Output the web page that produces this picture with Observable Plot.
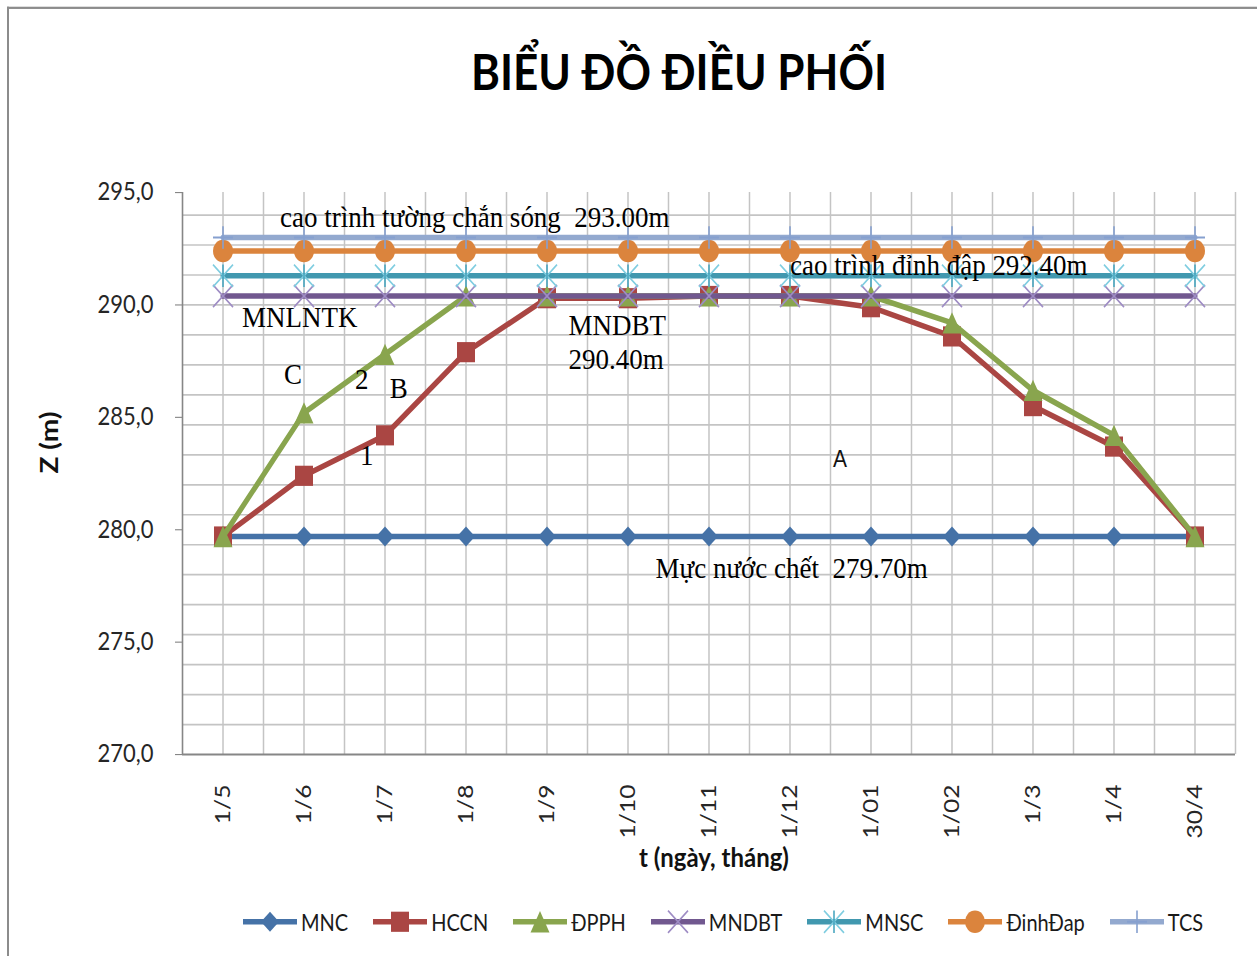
<!DOCTYPE html>
<html>
<head>
<meta charset="utf-8">
<script src="https://cdn.jsdelivr.net/npm/d3@7"></script>
<script src="https://cdn.jsdelivr.net/npm/@observablehq/plot@0.6"></script>
<style>
html,body{margin:0;padding:0;background:#fff;}
#page{position:relative;width:1257px;height:956px;overflow:hidden;}
#wrap{position:absolute;left:0;top:0;width:1257px;transform-origin:0 0;font-family:Lato,sans-serif;}
#frame{position:absolute;left:7px;top:6px;width:1400px;height:1000px;border-left:2px solid #8c8c8c;border-top:2px solid #8c8c8c;}
#title{position:absolute;left:179px;width:1000px;top:41px;text-align:center;font:700 44px/45px Lato,sans-serif;color:#000;white-space:nowrap;}
#chart{position:absolute;left:0;top:0;}
#legend{position:absolute;left:243px;top:810px;display:flex;align-items:center;gap:25px;font:400 20px/26px Lato,sans-serif;color:#1a1a1a;white-space:nowrap;}
.item{display:flex;align-items:center;gap:4px;}
.item svg{display:block;overflow:visible;}
</style>
</head>
<body>
<div id="page">
<div id="wrap">
  <div id="frame"></div>
  <div id="chart"></div>
  <div id="title">BIỂU ĐỒ ĐIỀU PHỐI</div>
  <div id="legend"></div>
</div>
</div>
<script>
// ---------- data ----------
const categories = ["1/5","1/6","1/7","1/8","1/9","1/10","1/11","1/12","1/01","1/02","1/3","1/4","30/4"];
const MNC     = [279.7,279.7,279.7,279.7,279.7,279.7,279.7,279.7,279.7,279.7,279.7,279.7,279.7];
const HCCN    = [279.7,282.4,284.2,287.9,290.3,290.3,290.4,290.4,289.9,288.6,285.5,283.7,279.7];
const DPPH    = [279.7,285.2,287.8,290.4,290.4,290.4,290.4,290.4,290.4,289.2,286.2,284.2,279.7];
const MNDBT   = [290.4,290.4,290.4,290.4,290.4,290.4,290.4,290.4,290.4,290.4,290.4,290.4,290.4];
const MNSC    = [291.3,291.3,291.3,291.3,291.3,291.3,291.3,291.3,291.3,291.3,291.3,291.3,291.3];
const DinhDap = [292.4,292.4,292.4,292.4,292.4,292.4,292.4,292.4,292.4,292.4,292.4,292.4,292.4];
const TCS     = [293.0,293.0,293.0,293.0,293.0,293.0,293.0,293.0,293.0,293.0,293.0,293.0,293.0];
const yTicks  = [270,275,280,285,290,295];

const noteText = ["cao trình tường chắn sóng\u00a0 293.00m","cao trình đỉnh đập 292.40m","MNLNTK","MNDBT","290.40m","C","2","B","1","Mực nước chết\u00a0 279.70m"];
const noteX    = [0.705, 7.0, 0.235, 4.265, 4.265, 0.754, 1.63, 2.06, 1.69, 5.34];
const noteY    = [293.92, 291.78, 289.43, 289.11, 287.56, 286.93, 286.71, 286.27, 283.29, 278.3];
const noteA    = {text:"A", x:7.53, y:283.11};

// ---------- symbols ----------
const R = size => Math.sqrt(size/Math.PI);
const sym = {
  diamond:{draw(c,size){const s=R(size);c.moveTo(0,-s);c.lineTo(s,0);c.lineTo(0,s);c.lineTo(-s,0);c.closePath();}},
  square:{draw(c,size){const s=R(size);c.moveTo(-s,-s);c.lineTo(s,-s);c.lineTo(s,s);c.lineTo(-s,s);c.closePath();}},
  triangle:{draw(c,size){const s=R(size);c.moveTo(0,-s);c.lineTo(s,s);c.lineTo(-s,s);c.closePath();}},
  circle:{draw(c,size){const s=R(size);c.moveTo(s,0);c.arc(0,0,s,0,2*Math.PI);c.closePath();}},
  times:{draw(c,size){const s=R(size);c.moveTo(-s,-s);c.lineTo(s,s);c.moveTo(s,-s);c.lineTo(-s,s);}},
  vline:{draw(c,size){const s=R(size);c.moveTo(0,-s);c.lineTo(0,s);}},
  plus:{draw(c,size){const s=R(size);c.moveTo(0,-s);c.lineTo(0,s);c.moveTo(-s,0);c.lineTo(s,0);}}
};

const series = [
  {name:"MNC", values:MNC, color:"#4572A7", marks:[{s:"diamond", r:9, fill:"#4572A7"}]},
  {name:"HCCN", values:HCCN, color:"#AA4643", marks:[{s:"square", r:9, fill:"#AA4643"}]},
  {name:"ĐPPH", values:DPPH, color:"#89A54E", marks:[{s:"triangle", r:9.5, fill:"#89A54E"}]},
  {name:"MNDBT", values:MNDBT, color:"#71588F", marks:[{s:"times", r:10, stroke:"#9e8cc4"}]},
  {name:"MNSC", values:MNSC, color:"#4198AF", marks:[{s:"times", r:10, stroke:"#7fcde0"},{s:"vline", r:10, stroke:"#4aa7c0"}]},
  {name:"ĐinhĐap", values:DinhDap, color:"#DB843D", marks:[{s:"circle", r:10, fill:"#DB843D"}]},
  {name:"TCS", values:TCS, color:"#93A9CF", marks:[{s:"plus", r:10, stroke:"#86a0cf"}]}
];

// ---------- layout ----------
const S = 1.12;             // vertical stretch of the whole picture
const W = 1257, H = 956 / S;
document.getElementById("wrap").style.height = H + "px";
document.getElementById("wrap").style.transform = `scaleY(${S})`;

const idx = d3.range(categories.length);
const fmt = d => d.toFixed(1).replace(".", ",");
const yGrid = d3.range(270 + 4/3, 294.5, 4/3);
const xGrid = d3.range(0, 12.6, 0.5);

const marks = [
  Plot.gridY(yGrid, {stroke:"#c4c4c4", strokeOpacity:1, strokeWidth:1.5}),
  Plot.gridX(xGrid, {stroke:"#c4c4c4", strokeOpacity:1, strokeWidth:1.5}),
  Plot.ruleX([-0.5], {stroke:"#868686", strokeWidth:1.6}),
  Plot.ruleY([270], {stroke:"#868686", strokeWidth:1.8}),
  Plot.axisY({ticks:yTicks, tickFormat:fmt, tickSize:7, tickPadding:22, fontSize:22, fill:"#262626", stroke:"#868686", label:null}),
  Plot.axisX({ticks:idx, tickFormat:i => categories[i], tickRotate:-90, tickSize:0, tickPadding:30/S, fontSize:22, fill:"#262626", label:null})
];

for (const s of series) {
  const rows = s.values.map((v,i) => ({x:i, y:v}));
  marks.push(Plot.line(rows, {x:"x", y:"y", stroke:s.color, strokeWidth:5, strokeLinejoin:"round"}));
  for (const m of s.marks) {
    marks.push(Plot.dot(rows, {x:"x", y:"y", symbol:sym[m.s], r:m.r,
      fill: m.fill ?? "none", stroke: m.stroke ?? "none", strokeWidth: m.stroke ? 1.6 : 0}));
  }
}

const notes = noteText.map((t,i) => ({text:t, x:noteX[i], y:noteY[i]}));
marks.push(
  Plot.text(notes, {x:"x", y:"y", text:"text", textAnchor:"start", lineAnchor:"middle", fontFamily:"Liberation Serif", fontSize:27, fill:"#000"}),
  Plot.text([noteA], {x:"x", y:"y", text:"text", textAnchor:"start", lineAnchor:"middle", fontFamily:"Liberation Sans", fontSize:21, fill:"#111"}),
  Plot.text(["Z (m)"], {text:d => d, frameAnchor:"left", dx:-(182-49), rotate:-90, fontWeight:700, fontSize:25, fill:"#111"}),
  Plot.text(["t (ngày, tháng)"], {text:d => d, frameAnchor:"bottom", dy:104/S, dx:5, lineAnchor:"middle", fontWeight:700, fontSize:24, fill:"#111"})
);

const chart = Plot.plot({
  width: W, height: H,
  marginTop: 192/S, marginBottom: (956-754)/S, marginLeft: 182, marginRight: 22,
  x: {type:"linear", domain:[-0.5, 12.5]},
  y: {domain:[270, 295]},
  style: {fontFamily:"Lato, sans-serif", background:"none", overflow:"visible"},
  marks
});
document.getElementById("chart").appendChild(chart);

// ---------- legend ----------
const legend = d3.select("#legend");
for (const s of series) {
  const item = legend.append("div").attr("class","item");
  const svg = item.append("svg").attr("width",54).attr("height",24);
  svg.append("line").attr("x1",0).attr("x2",54).attr("y1",12).attr("y2",12)
    .attr("stroke",s.color).attr("stroke-width",5);
  for (const m of s.marks) {
    const p = d3.path(); sym[m.s].draw(p, Math.PI*m.r*m.r);
    svg.append("path").attr("transform","translate(27,12)").attr("d",p.toString())
      .attr("fill",m.fill ?? "none").attr("stroke",m.stroke ?? "none").attr("stroke-width",m.stroke?1.6:0);
  }
  item.append("span").text(s.name);
}
</script>
</body>
</html>
